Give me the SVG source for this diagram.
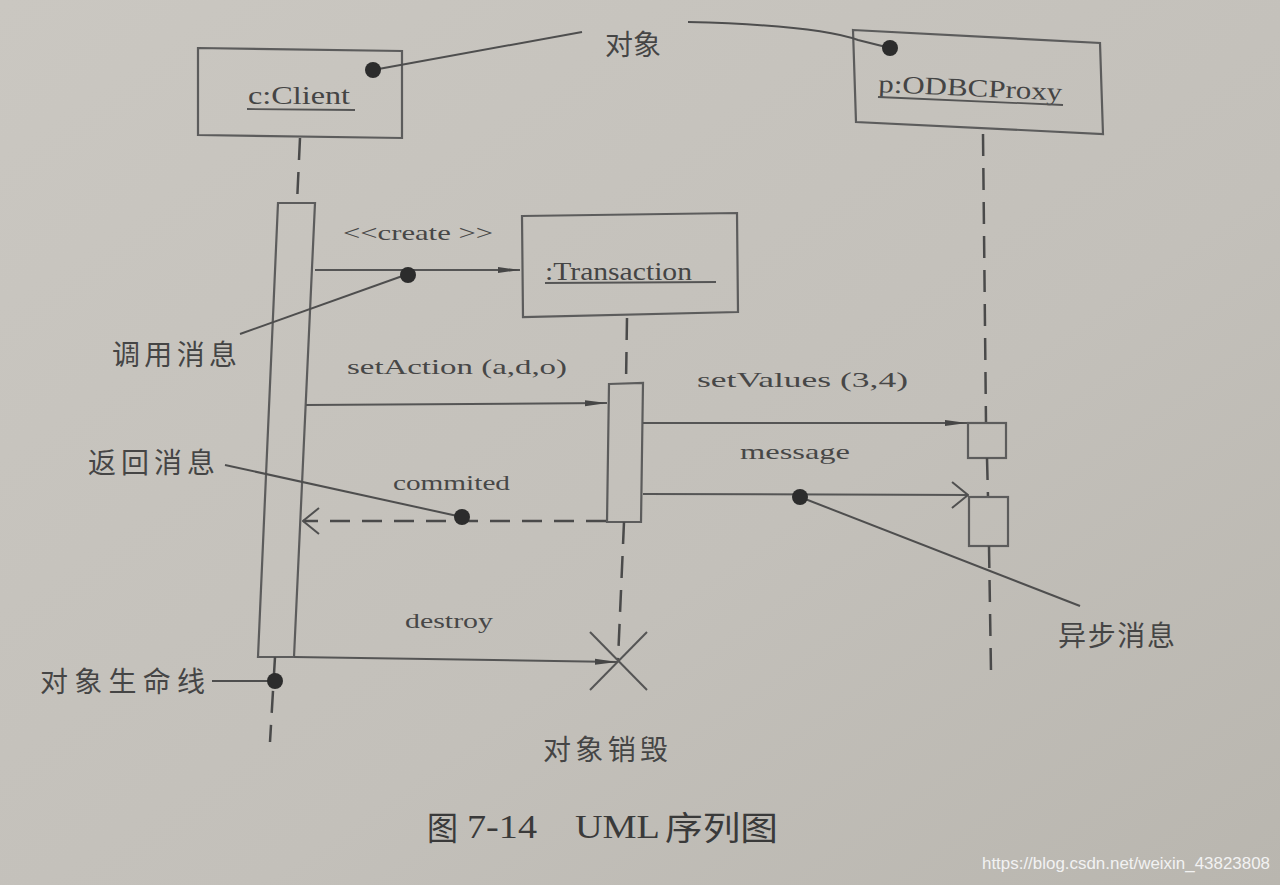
<svg xmlns="http://www.w3.org/2000/svg" width="1280" height="885" viewBox="0 0 1280 885">
<defs>
  <linearGradient id="bg" x1="0" y1="0" x2="1" y2="1">
    <stop offset="0" stop-color="#cac7c1"/>
    <stop offset="0.6" stop-color="#c3c0ba"/>
    <stop offset="1" stop-color="#b9b6af"/>
  </linearGradient>
  <marker id="filled" markerWidth="22" markerHeight="10" refX="22" refY="5" orient="auto" markerUnits="userSpaceOnUse">
    <path d="M0,2 L22,5 L0,8 Z" fill="#464646"/>
  </marker>
  <marker id="open" markerWidth="18" markerHeight="28" refX="17" refY="14" orient="auto" markerUnits="userSpaceOnUse">
    <path d="M1,1 L17,14 L1,27" fill="none" stroke="#505050" stroke-width="2"/>
  </marker>
</defs>
<style>
  .box{fill:none;stroke:#5c5c5c;stroke-width:2.2}
  .life{fill:none;stroke:#4a4a4a;stroke-width:2.5;stroke-dasharray:22 12}
  .msg{fill:none;stroke:#555;stroke-width:2}
  .ret{fill:none;stroke:#4a4a4a;stroke-width:2.5;stroke-dasharray:20 12}
  .lead{fill:none;stroke:#4e4e4e;stroke-width:2}
  .ul{stroke:#555;stroke-width:1.8}
  .lbl{font-family:"Liberation Serif",serif;font-size:22px;fill:#474747}
  .obj{font-family:"Liberation Serif",serif;font-size:25px;fill:#444}
  .cn{font-family:"Noto Sans CJK SC",sans-serif;font-size:28px;fill:#454545}
  .dot{fill:#2c2c2c}
  .capl{font-family:"Liberation Serif",serif;font-size:33px;fill:#3a3a3a}
  .capc{font-family:"Noto Sans CJK SC",sans-serif;font-size:33px;fill:#3a3a3a}
</style>
<rect x="0" y="0" width="1280" height="885" fill="url(#bg)"/>

<g id="client">
  <polygon class="box" points="198,48 402,51 402,138 198,135"/>
  <text class="obj" x="248" y="104" textLength="102" lengthAdjust="spacingAndGlyphs">c:Client</text>
  <line class="ul" x1="247" y1="109" x2="355" y2="110"/>
  <line class="life" x1="300" y1="138" x2="297" y2="203"/>
  <polygon class="box" points="278,203 315,203 294,657 258,657"/>
  <line class="life" x1="275" y1="657" x2="270" y2="742"/>
</g>

<g id="transaction">
  <polygon class="box" points="522,216 737,213 738,312 523,317"/>
  <text class="obj" x="545" y="280" textLength="147" lengthAdjust="spacingAndGlyphs">:Transaction</text>
  <line class="ul" x1="545" y1="283" x2="716" y2="282"/>
  <line class="life" x1="627" y1="318" x2="626" y2="383"/>
  <polygon class="box" points="609,384 643,383 641,522 607,522"/>
  <line class="life" x1="624" y1="522" x2="618" y2="660"/>
  <line class="msg" x1="590" y1="632" x2="647" y2="690"/>
  <line class="msg" x1="647" y1="632" x2="590" y2="690"/>
</g>

<g id="odbcproxy">
  <polygon class="box" points="853,30 1100,43 1103,134 856,122"/>
  <text class="obj" x="878" y="92" textLength="184" lengthAdjust="spacingAndGlyphs" transform="rotate(2.6 878 92)">p:ODBCProxy</text>
  <line class="ul" x1="878" y1="97" x2="1063" y2="105"/>
  <line class="life" x1="983" y1="134" x2="986" y2="423"/>
  <rect class="box" x="968" y="423" width="38" height="35"/>
  <line class="life" x1="987" y1="458" x2="988" y2="497"/>
  <rect class="box" x="969" y="497" width="39" height="49"/>
  <line class="life" x1="989" y1="546" x2="991" y2="672"/>
</g>

<g id="connectors">
  <line class="msg" x1="315" y1="270" x2="520" y2="270" marker-end="url(#filled)"/>
  <line class="msg" x1="306" y1="405" x2="607" y2="403" marker-end="url(#filled)"/>
  <line class="msg" x1="643" y1="423" x2="967" y2="423" marker-end="url(#filled)"/>
  <line class="msg" x1="643" y1="494" x2="968" y2="495" marker-end="url(#open)"/>
  <line class="ret" x1="606" y1="521" x2="303" y2="521" marker-end="url(#open)"/>
  <line class="msg" x1="294" y1="657" x2="617" y2="662" marker-end="url(#filled)"/>
</g>

<g id="message-labels">
  <text class="lbl" x="343" y="240" textLength="150" lengthAdjust="spacingAndGlyphs">&lt;&lt;create &gt;&gt;</text>
  <text class="lbl" x="347" y="374" textLength="220" lengthAdjust="spacingAndGlyphs">setAction (a,d,o)</text>
  <text class="lbl" x="697" y="387" textLength="211" lengthAdjust="spacingAndGlyphs">setValues (3,4)</text>
  <text class="lbl" x="740" y="459" textLength="110" lengthAdjust="spacingAndGlyphs">message</text>
  <text class="lbl" x="393" y="490" textLength="117" lengthAdjust="spacingAndGlyphs">commited</text>
  <text class="lbl" x="405" y="628" textLength="88" lengthAdjust="spacingAndGlyphs">destroy</text>
</g>

<g id="annotations">
  <text class="cn" x="605" y="55" textLength="56">对象</text>
  <path class="lead" d="M373,70 L582,32"/>
  <path class="lead" d="M688,22 C770,24 830,30 858,40 L890,48"/>
  <circle class="dot" cx="373" cy="70" r="8"/>
  <circle class="dot" cx="890" cy="48" r="8"/>

  <text class="cn" x="112" y="365" textLength="125">调用消息</text>
  <line class="lead" x1="240" y1="334" x2="408" y2="274"/>
  <circle class="dot" cx="408" cy="275" r="8"/>

  <text class="cn" x="88" y="473" textLength="127">返回消息</text>
  <line class="lead" x1="225" y1="465" x2="462" y2="517"/>
  <circle class="dot" cx="462" cy="517" r="8"/>

  <text class="cn" x="1058" y="646" textLength="117">异步消息</text>
  <line class="lead" x1="800" y1="497" x2="1080" y2="606"/>
  <circle class="dot" cx="800" cy="497" r="8"/>

  <text class="cn" x="40" y="692" textLength="165">对象生命线</text>
  <line class="lead" x1="212" y1="681" x2="275" y2="681"/>
  <circle class="dot" cx="275" cy="681" r="8"/>

  <text class="cn" x="543" y="760" textLength="125">对象销毁</text>
</g>

<g id="caption">
  <text class="capc" x="427" y="840" textLength="31" lengthAdjust="spacingAndGlyphs">图</text>
  <text class="capl" x="467" y="838" textLength="70" lengthAdjust="spacingAndGlyphs">7-14</text>
  <text class="capl" x="575" y="838" textLength="85" lengthAdjust="spacingAndGlyphs">UML</text>
  <text class="capc" x="665" y="840" textLength="113" lengthAdjust="spacingAndGlyphs">序列图</text>
  <text x="982" y="869" font-family="'Liberation Sans',sans-serif" font-size="17" fill="#f2f2f2" textLength="288" lengthAdjust="spacingAndGlyphs">https://blog.csdn.net/weixin_43823808</text>
</g>
</svg>
